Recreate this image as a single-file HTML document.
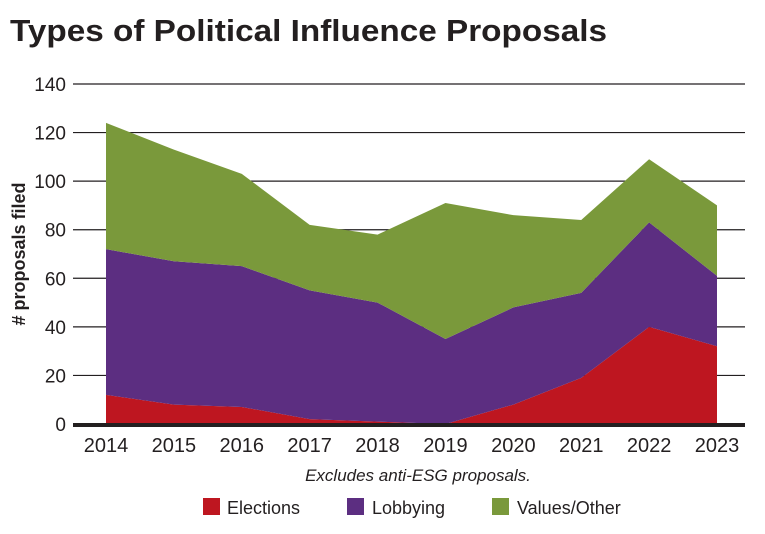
<!DOCTYPE html>
<html><head><meta charset="utf-8"><style>
body{margin:0;background:#fff;width:765px;height:534px;overflow:hidden}
svg{display:block;font-family:"Liberation Sans",sans-serif}
</style></head><body>
<svg id="chart" width="765" height="534">
<text x="10" y="41" font-size="31" font-weight="bold" textLength="597" lengthAdjust="spacingAndGlyphs" fill="#231f20">Types of Political Influence Proposals</text>
<g id="grid"></g><g id="areas"></g><g id="axes"></g>
<text transform="translate(25,254) rotate(-90)" text-anchor="middle" font-size="18" font-weight="bold" fill="#231f20"># proposals filed</text>
<text x="418" y="481" text-anchor="middle" font-size="17" font-style="italic" fill="#231f20">Excludes anti-ESG proposals.</text>
<g>
<rect x="203" y="498" width="17" height="17" fill="#be1620"/>
<text x="227" y="514" font-size="18" fill="#231f20">Elections</text>
<rect x="347" y="498" width="17" height="17" fill="#5c2e81"/>
<text x="372" y="514" font-size="18" fill="#231f20">Lobbying</text>
<rect x="492" y="498" width="17" height="17" fill="#7a993b"/>
<text x="517" y="514" font-size="18" fill="#231f20">Values/Other</text>
</g>
</svg>
<script>
const years=["2014","2015","2016","2017","2018","2019","2020","2021","2022","2023"];
const elections=[12,8,7,2,1,0,8,19,40,32];
const lobbying=[60,59,58,53,49,35,40,35,43,29];
const valuesOther=[52,46,38,27,28,56,38,30,26,29];
const yTicks=[0,20,40,60,80,100,120,140];
const NS="http://www.w3.org/2000/svg";
const x=i=>106+i*(717-106)/(years.length-1);
const y=v=>424-v*(424-84)/140;
function mk(t,a,p){const e=document.createElementNS(NS,t);for(const k in a)e.setAttribute(k,a[k]);p.appendChild(e);return e;}
const grid=document.getElementById('grid'),areas=document.getElementById('areas'),axes=document.getElementById('axes');
yTicks.forEach(v=>{
 if(v>0){const l=mk('line',{x1:73,x2:745,y1:y(v),y2:y(v),stroke:'#231f20','stroke-width':1.2},grid);
 
 }
 const t=mk('text',{x:66,y:y(v)+7,'text-anchor':'end','font-size':19,fill:'#231f20'},axes);
 t.textContent=v;
 
 
});
const series=[[elections,'#be1620','area-elections'],[lobbying,'#5c2e81','area-lobbying'],[valuesOther,'#7a993b','area-values-other']];
let base=years.map(()=>0);
series.forEach(([vals,col,name])=>{
 const top=base.map((b,i)=>b+vals[i]);
 let d='M'+years.map((_,i)=>x(i)+','+y(top[i])).join(' L');
 for(let i=years.length-1;i>=0;i--)d+=' L'+x(i)+','+y(base[i]);
 d+='Z';
 const p=mk('path',{d:d,fill:col},areas);
 
 
 base=top;
});
const ax=mk('line',{x1:73,x2:745,y1:425,y2:425,stroke:'#231f20','stroke-width':4},axes);


years.forEach((yr,i)=>{
 const t=mk('text',{x:x(i),y:452,'text-anchor':'middle','font-size':20,fill:'#231f20'},axes);
 t.textContent=yr;
 
 
});
</script>
</body></html>
